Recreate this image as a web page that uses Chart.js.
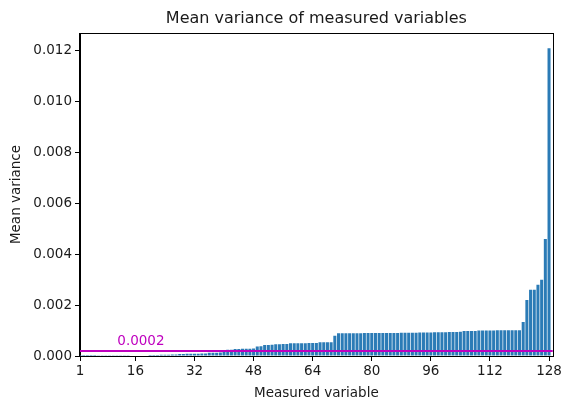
<!DOCTYPE html>
<html>
<head>
<meta charset="utf-8">
<script src="https://cdn.jsdelivr.net/npm/chart.js@4.4.0/dist/chart.umd.min.js"></script>
<style>
html, body { margin: 0; padding: 0; background: #fff; }
</style>
</head>
<body>
<canvas id="chart1" width="564" height="402"></canvas>
<script>
// variables 1..128, sorted by mean variance
var variables = [];
for (var i = 1; i <= 128; i++) variables.push(i);

var meanVariance = [
  0.000001, 0.000002, 0.000002, 0.000003, 0.000004, 0.000005, 0.000006, 0.000007, 0.000008, 0.000009,
  0.00001, 0.000011, 0.000012, 0.000014, 0.000015, 0.000017, 0.000019, 0.000021, 0.000024,
  0.00004, 0.000042, 0.000044, 0.000046, 0.000048, 0.00005, 0.000055, 0.00006,
  0.00008, 0.000082, 0.000084, 0.000086, 0.000088, 0.00009, 0.000095, 0.0001,
  0.00013, 0.00013, 0.000132, 0.000135,
  0.00024, 0.000245, 0.00025,
  0.00028, 0.00028, 0.000282, 0.000284, 0.000286, 0.00029,
  0.00037, 0.00038,
  0.00043, 0.00043, 0.00044,
  0.00046, 0.00046, 0.00047, 0.00047,
  0.0005, 0.0005, 0.0005, 0.000505, 0.000505, 0.00051, 0.00051, 0.000515,
  0.00054, 0.00054, 0.000545, 0.000545,
  0.0008,
  0.00089, 0.000892, 0.000894, 0.000895, 0.000896, 0.000897, 0.000898, 0.0009, 0.0009, 0.000901,
  0.000902, 0.000903, 0.000904, 0.000905, 0.000906, 0.000907, 0.000908, 0.00091, 0.000912, 0.000914,
  0.000916, 0.000918, 0.00092, 0.000922, 0.000925, 0.000928, 0.00093, 0.000932, 0.000935, 0.000938,
  0.00094, 0.000943, 0.000946, 0.00095,
  0.00098, 0.00098, 0.000982, 0.000985,
  0.001, 0.001, 0.001, 0.001005, 0.001005, 0.00101, 0.00101, 0.00101, 0.001012, 0.001012, 0.001015, 0.001015,
  0.00134,
  0.0022,
  0.0026, 0.0026,
  0.0028,
  0.003,
  0.0046,
  0.0121
];

var xTicks = [1, 16, 32, 48, 64, 80, 96, 112, 128];
var yTicks = [0, 0.002, 0.004, 0.006, 0.008, 0.010, 0.012];
var threshold = 0.0002;
var chartTitle = 'Mean variance of measured variables';

var fontFamily = "'DejaVu Sans', sans-serif";
var magenta = '#bf00bf';
var textColor = '#1a1a1a';

// title centred over the plot area, not the whole canvas
var axesTitle = {
  id: 'axesTitle',
  afterDraw: function(chart) {
    var ctx = chart.ctx;
    var a = chart.chartArea;
    ctx.save();
    ctx.fillStyle = textColor;
    ctx.font = '16px ' + fontFamily;
    ctx.textAlign = 'center';
    ctx.textBaseline = 'alphabetic';
    ctx.fillText(chartTitle, (a.left + a.right) / 2, a.top - 10);
    ctx.restore();
  }
};

// threshold line + label, drawn over the bars
var thresholdLine = {
  id: 'thresholdLine',
  afterDatasetsDraw: function(chart) {
    var ctx = chart.ctx;
    var area = chart.chartArea;
    var y = chart.scales.y.getPixelForValue(threshold);
    ctx.save();
    ctx.strokeStyle = magenta;
    ctx.lineWidth = 2;
    ctx.beginPath();
    ctx.moveTo(area.left, y);
    ctx.lineTo(area.right, y);
    ctx.stroke();
    ctx.fillStyle = magenta;
    ctx.font = '13.5px ' + fontFamily;
    ctx.textAlign = 'left';
    ctx.textBaseline = 'alphabetic';
    ctx.fillText(String(threshold), chart.scales.x.getPixelForValue(11.1), y - 6);
    ctx.restore();
  }
};

// box around the plot area (all four spines)
var frame = {
  id: 'frame',
  afterDraw: function(chart) {
    var ctx = chart.ctx;
    var a = chart.chartArea;
    ctx.save();
    ctx.strokeStyle = '#000';
    ctx.lineWidth = 1;
    ctx.strokeRect(Math.round(a.left) - 0.5, Math.round(a.top) + 0.5,
      Math.round(a.right - a.left) + 1, Math.round(a.bottom - a.top));
    ctx.restore();
  }
};

var tickFont = { family: fontFamily, size: 13.5 };

new Chart(document.getElementById('chart1'), {
  type: 'bar',
  data: {
    datasets: [{
      data: variables.map(function(v, i) { return { x: v, y: meanVariance[i] }; }),
      backgroundColor: '#2b7bb6',
      borderWidth: 0,
      barPercentage: 0.82,
      categoryPercentage: 1
    }]
  },
  options: {
    responsive: false,
    animation: false,
    devicePixelRatio: 1,
    layout: { padding: { left: 0, right: 10, top: 33, bottom: 0 } },
    plugins: {
      legend: { display: false },
      tooltip: { enabled: false },
      title: { display: false }
    },
    scales: {
      x: {
        type: 'linear',
        min: 1,
        max: 129,
        offset: false,
        afterBuildTicks: function(s) { s.ticks = xTicks.map(function(v) { return { value: v }; }); },
        afterFit: function(s) { s.height = 46; },
        grid: { display: true, offset: false, drawOnChartArea: false, drawTicks: true, tickLength: 5, color: '#000' },
        border: { display: true, color: '#000', width: 1 },
        ticks: { color: textColor, font: tickFont, padding: 2, maxRotation: 0, autoSkip: false },
        title: { display: true, text: 'Measured variable', color: textColor, font: tickFont, padding: { top: 2, bottom: 0 } }
      },
      y: {
        min: 0,
        max: 0.0127,
        afterBuildTicks: function(s) { s.ticks = yTicks.map(function(v) { return { value: v }; }); },
        afterFit: function(s) { s.width = 80; },
        grid: { display: true, drawOnChartArea: false, drawTicks: true, tickLength: 5, color: '#000' },
        border: { display: true, color: '#000', width: 1 },
        ticks: {
          color: textColor, font: tickFont, padding: 3,
          callback: function(v) { return v.toFixed(3); }
        },
        title: { display: true, text: 'Mean variance', color: textColor, font: tickFont, padding: { top: 8, bottom: 0 } }
      }
    }
  },
  plugins: [thresholdLine, frame, axesTitle]
});
</script>
</body>
</html>
